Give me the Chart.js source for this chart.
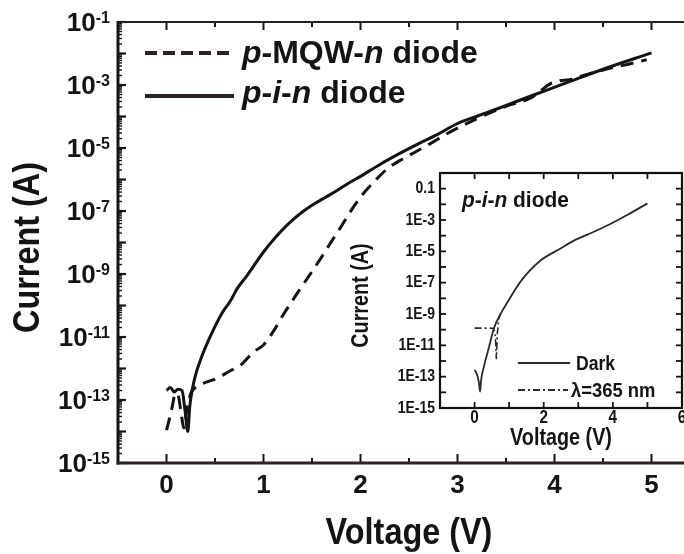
<!DOCTYPE html>
<html><head><meta charset="utf-8">
<script src="https://cdn.jsdelivr.net/npm/chart.js"></script>
<style>
html,body{margin:0;padding:0;background:#fff;overflow:hidden;width:684px;height:554px;}
#main{position:absolute;left:0;top:0;}
#inset{position:absolute;left:350px;top:165px;}
</style></head>
<body>
<canvas id="main" width="720" height="554"></canvas>
<canvas id="inset" width="334" height="295"></canvas>
<script>
// ---------- data (main figure) ----------
const pinV = [0, 0.04, 0.08, 0.12, 0.16, 0.19, 0.22, 0.24, 0.27, 0.30, 0.35, 0.45, 0.57, 0.66, 0.73, 0.83, 1.00, 1.12, 1.24, 1.38, 1.52, 1.70, 1.86, 2.00, 2.20, 2.40, 2.60, 2.80, 3.00, 3.20, 3.44, 3.75, 4.10, 4.50, 5.00];
const pinI = [2.0e-13, 2.5e-13, 1.8e-13, 2.2e-13, 2.0e-13, 5.0e-14, 1.0e-14, 6.3e-14, 2.5e-13, 6.3e-13, 1.86e-12, 1.02e-11, 5.6e-11, 1.41e-10, 3.5e-10, 8.9e-10, 5.0e-9, 1.41e-8, 3.5e-8, 8.3e-8, 1.66e-7, 3.5e-7, 7.1e-7, 1.26e-6, 3.0e-6, 6.6e-6, 1.38e-5, 2.75e-5, 6.0e-5, 1.02e-4, 1.9e-4, 4.4e-4, 1.1e-3, 3.16e-3, 1.05e-2];
const mqwV = [0, 0.03, 0.06, 0.09, 0.12, 0.15, 0.18, 0.21, 0.25, 0.30, 0.38, 0.52, 0.64, 0.76, 0.90, 1.00, 1.11, 1.19, 1.28, 1.36, 1.46, 1.60, 1.70, 1.80, 1.93, 2.03, 2.14, 2.28, 2.43, 2.58, 2.72, 2.90, 3.20, 3.50, 3.75, 3.85, 3.95, 4.05, 4.15, 4.30, 4.50, 4.75, 4.95];
const mqwI = [1.1e-14, 2.5e-14, 6.3e-14, 1.6e-13, 1.4e-13, 4.0e-14, 1.3e-14, 5.0e-14, 1.6e-13, 2.5e-13, 3.4e-13, 4.9e-13, 7.9e-13, 1.26e-12, 3.4e-12, 5.6e-12, 1.66e-11, 4.4e-11, 1.17e-10, 2.8e-10, 7.9e-10, 3.5e-9, 1.07e-8, 3.2e-8, 1.38e-7, 3.6e-7, 8.5e-7, 2.24e-6, 4.4e-6, 7.9e-6, 1.38e-5, 2.95e-5, 8.5e-5, 2.1e-4, 3.8e-4, 6.3e-4, 1.07e-3, 1.35e-3, 1.48e-3, 2.0e-3, 3.0e-3, 4.5e-3, 6.3e-3];
// ---------- data (inset) ----------
const darkV = [0, 0.06, 0.12, 0.16, 0.19, 0.27, 0.42, 0.56, 0.76, 0.95, 1.34, 1.90, 2.50, 2.90, 3.40, 3.87, 4.40, 5.00];
const darkI = [2.7e-13, 1.6e-13, 5.0e-14, 1.1e-14, 6.3e-14, 4.4e-13, 8.1e-12, 1.23e-10, 1.1e-9, 5.6e-9, 1.26e-7, 2.5e-6, 1.58e-5, 5.2e-5, 1.58e-4, 4.8e-4, 2.0e-3, 1.15e-2];
const uvV = [0, 0.20, 0.40, 0.55, 0.60, 0.63, 0.66, 0.70, 0.76];
const uvI = [1.26e-10, 1.26e-10, 1.26e-10, 1.2e-10, 5.0e-11, 1.3e-12, 6.3e-11, 5.0e-10, 1.1e-9];
// ---------- tick labels / texts ----------
const mainXTicks = [0, 1, 2, 3, 4, 5];
const mainYExps = ['-1', '-3', '-5', '-7', '-9', '-11', '-13', '-15'];
const insetYTickValues = [1e-1, 1e-3, 1e-5, 1e-7, 1e-9, 1e-11, 1e-13, 1e-15];
const insetYTickLabels = ['0.1', '1E-3', '1E-5', '1E-7', '1E-9', '1E-11', '1E-13', '1E-15'];
const insetXTicks = [0, 2, 4, 6];
const legendMQW = [{t:'p', i:true}, {t:'-MQW-'}, {t:'n', i:true}, {t:' diode'}];
const legendPIN = [{t:'p', i:true}, {t:'-'}, {t:'i', i:true}, {t:'-'}, {t:'n', i:true}, {t:' diode'}];
const insetTitle = [{t:'p', i:true}, {t:'-'}, {t:'i', i:true}, {t:'-'}, {t:'n', i:true}, {t:' diode'}];

const FF = '"Liberation Sans", Arial, Helvetica, sans-serif';
const INK = '#141414';

function pts(xs, ys) { return xs.map((x, i) => ({x: x, y: ys[i]})); }
function seg(ctx, x1, y1, x2, y2, w) {
  ctx.lineWidth = w; ctx.beginPath(); ctx.moveTo(x1, y1); ctx.lineTo(x2, y2); ctx.stroke();
}
function txt(ctx, s, x, y, font, sx, align, base, rot) {
  ctx.save(); ctx.font = font; ctx.textAlign = align; ctx.textBaseline = base;
  ctx.translate(x, y); if (rot) ctx.rotate(rot); ctx.scale(sx, 1); ctx.fillText(s, 0, 0); ctx.restore();
}
function rich(ctx, segs, x, y, size, sx) {
  ctx.save(); ctx.translate(x, y); ctx.scale(sx, 1);
  ctx.textAlign = 'left'; ctx.textBaseline = 'middle';
  let cx = 0;
  segs.forEach(s => {
    ctx.font = (s.i ? 'italic ' : '') + 'bold ' + size + 'px ' + FF;
    ctx.fillText(s.t, cx, 0);
    cx += ctx.measureText(s.t).width;
  });
  ctx.restore();
}

const mainDeco = {
  id: 'mainDeco',
  afterDraw(chart) {
    const ctx = chart.ctx, a = chart.chartArea, x = chart.scales.x, y = chart.scales.y;
    ctx.save();
    ctx.strokeStyle = INK; ctx.fillStyle = INK; ctx.lineCap = 'butt';
    for (let e = -15; e < -1; e++) {
      for (let m = 2; m <= 9; m++) {
        const py = y.getPixelForValue(m * Math.pow(10, e));
        seg(ctx, a.left, py, a.left + 4, py, 1.4);
      }
    }
    for (let e = -15; e <= -1; e++) {
      const py = y.getPixelForValue(Math.pow(10, e));
      seg(ctx, a.left, py, a.left + 8, py, 2.2);
    }
    for (let k = -1; k <= 11; k++) {
      const v = k / 2, px = x.getPixelForValue(v), major = (k % 2 === 0);
      seg(ctx, px, a.bottom, px, a.bottom - (major ? 9 : 5), 2);
      seg(ctx, px, a.top, px, a.top + (major ? 8 : 5), 2);
    }
    ctx.strokeStyle = '#222';
    seg(ctx, a.left, a.top, a.right, a.top, 2);
    seg(ctx, a.right, a.top, a.right, a.bottom, 2);
    ctx.strokeStyle = INK;
    seg(ctx, a.left, a.top - 1, a.left, a.bottom + 1.5, 3);
    ctx.strokeStyle = '#2b2222';
    seg(ctx, a.left - 1.5, a.bottom, a.right, a.bottom, 3);
    mainYExps.forEach(e => {
      const py = y.getPixelForValue(Math.pow(10, Number(e)));
      const right = a.left - 8;
      ctx.font = 'bold 16px ' + FF;
      const ws = ctx.measureText(e).width;
      ctx.textAlign = 'left'; ctx.textBaseline = 'alphabetic';
      ctx.fillText(e, right - ws, py + 1);
      ctx.font = 'bold 26px ' + FF;
      ctx.textAlign = 'right'; ctx.textBaseline = 'middle';
      ctx.fillText('10', right - ws, py + 2);
    });
    mainXTicks.forEach(v => {
      txt(ctx, String(v), x.getPixelForValue(v), a.bottom + 23, 'bold 26px ' + FF, 1, 'center', 'middle');
    });
    txt(ctx, 'Voltage (V)', (a.left + a.right) / 2, 534, 'bold 36px ' + FF, 0.9, 'center', 'middle');
    txt(ctx, 'Current (A)', 29, (a.top + a.bottom) / 2 + 5, 'bold 36px ' + FF, 0.9, 'center', 'middle', -Math.PI / 2);
    ctx.setLineDash([12, 6]);
    seg(ctx, 145, 53, 234, 53, 4);
    ctx.setLineDash([]);
    seg(ctx, 145, 96, 234, 96, 4);
    rich(ctx, legendMQW, 242, 54, 32, 1);
    rich(ctx, legendPIN, 242, 94, 32, 1);
    ctx.restore();
  }
};

new Chart(document.getElementById('main'), {
  type: 'line',
  data: {
    datasets: [
      { label: 'p-i-n diode', data: pts(pinV, pinI), borderColor: INK, borderWidth: 3, pointRadius: 0,
        cubicInterpolationMode: 'monotone', borderJoinStyle: 'round', fill: false },
      { label: 'p-MQW-n diode', data: pts(mqwV, mqwI), borderColor: INK, borderWidth: 3, pointRadius: 0,
        borderDash: [13, 8], cubicInterpolationMode: 'monotone', fill: false }
    ]
  },
  options: {
    responsive: false, animation: false, devicePixelRatio: 1, events: [],
    layout: { padding: { left: 118, top: 22, right: 20, bottom: 91 } },
    scales: {
      x: { type: 'linear', min: -0.5, max: 5.5, display: false },
      y: { type: 'logarithmic', min: 1e-15, max: 1e-1, display: false }
    },
    plugins: { legend: { display: false }, tooltip: { enabled: false } }
  },
  plugins: [mainDeco]
});

const insetDeco = {
  id: 'insetDeco',
  beforeDraw(chart) {
    const ctx = chart.ctx, a = chart.chartArea;
    ctx.save(); ctx.fillStyle = '#fff';
    ctx.fillRect(a.left, a.top, a.right - a.left, a.bottom - a.top);
    ctx.restore();
  },
  afterDraw(chart) {
    const ctx = chart.ctx, a = chart.chartArea, x = chart.scales.x, y = chart.scales.y;
    ctx.save();
    ctx.strokeStyle = INK; ctx.fillStyle = INK;
    for (let e = -15; e <= 0; e++) {
      const py = y.getPixelForValue(Math.pow(10, e));
      seg(ctx, a.left, py, a.left + 6, py, 1.8);
      seg(ctx, a.right, py, a.right - 6, py, 1.8);
    }
    for (let v = 0; v <= 5; v++) {
      const px = x.getPixelForValue(v);
      seg(ctx, px, a.bottom, px, a.bottom - 6, 1.8);
      seg(ctx, px, a.top, px, a.top + 6, 1.8);
    }
    ctx.strokeStyle = '#111';
    ctx.lineWidth = 2.2;
    ctx.strokeRect(a.left, a.top, a.right - a.left, a.bottom - a.top);
    insetYTickValues.forEach((v, i) => {
      txt(ctx, insetYTickLabels[i], a.left - 5, y.getPixelForValue(v), 'bold 17px ' + FF, 0.82, 'right', 'middle');
    });
    insetXTicks.forEach(v => {
      txt(ctx, String(v), x.getPixelForValue(v), a.bottom + 10, 'bold 18px ' + FF, 0.85, 'center', 'middle');
    });
    txt(ctx, 'Voltage (V)', (a.left + a.right) / 2, a.bottom + 31, 'bold 23px ' + FF, 0.86, 'center', 'middle');
    txt(ctx, 'Current (A)', 12, (a.top + a.bottom) / 2 + 5, 'bold 23px ' + FF, 0.86, 'center', 'middle', -Math.PI / 2);
    rich(ctx, insetTitle, 112, 36, 22, 0.95);
    ctx.strokeStyle = '#2a2a2a';
    seg(ctx, 168, 198, 220, 198, 2);
    ctx.setLineDash([7, 3, 2, 3]);
    seg(ctx, 168, 225, 218, 225, 2);
    ctx.setLineDash([]);
    txt(ctx, 'Dark', 226, 199, 'bold 20px ' + FF, 0.88, 'left', 'middle');
    txt(ctx, '\u03BB=365 nm', 221, 226, 'bold 20px ' + FF, 0.92, 'left', 'middle');
    ctx.restore();
  }
};

new Chart(document.getElementById('inset'), {
  type: 'line',
  data: {
    datasets: [
      { label: 'Dark', data: pts(darkV, darkI), borderColor: '#2a2a2a', borderWidth: 1.8, pointRadius: 0,
        cubicInterpolationMode: 'monotone', fill: false },
      { label: '\u03BB=365 nm', data: pts(uvV, uvI), borderColor: '#2a2a2a', borderWidth: 1.6, pointRadius: 0,
        borderDash: [7, 3, 2, 3], fill: false }
    ]
  },
  options: {
    responsive: false, animation: false, devicePixelRatio: 1, events: [],
    layout: { padding: { left: 90, top: 8, right: 2, bottom: 52 } },
    scales: {
      x: { type: 'linear', min: -1, max: 6, display: false },
      y: { type: 'logarithmic', min: 1e-15, max: 1, display: false }
    },
    plugins: { legend: { display: false }, tooltip: { enabled: false } }
  },
  plugins: [insetDeco]
});
</script>
</body></html>
